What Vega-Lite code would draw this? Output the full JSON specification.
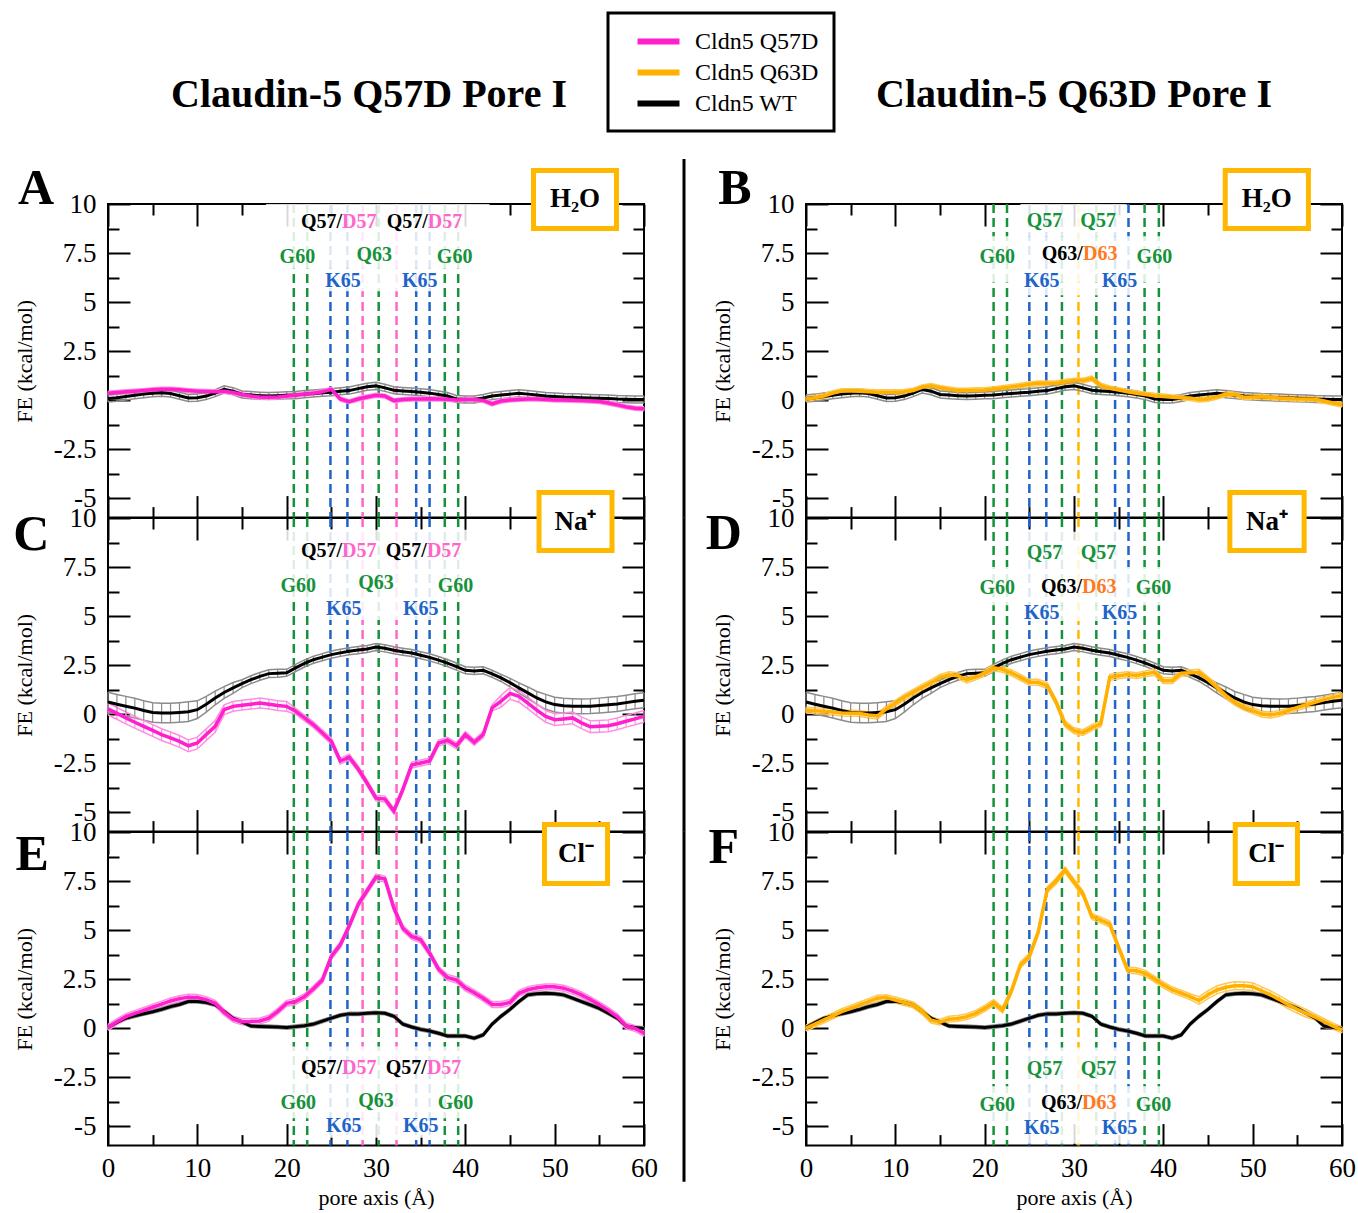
{
"$schema":"https://vega.github.io/schema/vega-lite/v6.json",
"background":"white",
"padding":{"left":12,"top":11,"right":0,"bottom":0},
"config":{"font":"Liberation Serif","view":{"stroke":"black","strokeWidth":2},
"axis":{"domain":false,"grid":false,"tickColor":"black","tickWidth":2,"labelFont":"Liberation Serif","labelFontSize":27,"labelColor":"black","titleFont":"Liberation Serif","titleFontWeight":"normal","titleFontSize":22,"titleColor":"black","labelFlush":false,"labelOverlap":false},
"legend":{"labelFont":"Liberation Serif","labelFontSize":24,"labelColor":"black","strokeColor":"black","strokeWidth":3,"fillColor":"white","padding":15,"symbolStrokeWidth":6,"rowPadding":5}},
"datasets":{
"rl":[{"d":"L","x":20.8,"r":"G60"},{"d":"L","x":22.3,"r":"G60"},{"d":"L","x":24.9,"r":"K65"},{"d":"L","x":26.8,"r":"K65"},{"d":"L","x":28.5,"r":"D57"},{"d":"L","x":30.3,"r":"Q63"},{"d":"L","x":32.3,"r":"D57"},{"d":"L","x":34.5,"r":"K65"},{"d":"L","x":36.0,"r":"K65"},{"d":"L","x":37.7,"r":"G60"},{"d":"L","x":39.2,"r":"G60"},
{"d":"R","x":21.0,"r":"G60"},{"d":"R","x":22.5,"r":"G60"},{"d":"R","x":25.0,"r":"K65"},{"d":"R","x":26.9,"r":"K65"},{"d":"R","x":28.65,"r":"Q57"},{"d":"R","x":30.5,"r":"D63"},{"d":"R","x":32.5,"r":"Q57"},{"d":"R","x":34.6,"r":"K65"},{"d":"R","x":36.1,"r":"K65"},{"d":"R","x":37.9,"r":"G60"},{"d":"R","x":39.5,"r":"G60"}],
"wb":[{"i":"H","d":"L","x1":17.7,"x2":42.7,"y1":10,"y2":6.7},{"i":"H","d":"L","x1":24.2,"x2":36.8,"y1":6.7,"y2":5.55},
{"i":"N","d":"L","x1":17.7,"x2":42.7,"y1":9.4,"y2":5.95},{"i":"N","d":"L","x1":24.2,"x2":36.8,"y1":5.95,"y2":4.8},
{"i":"C","d":"L","x1":17.7,"x2":42.7,"y1":-0.95,"y2":-4.6},{"i":"C","d":"L","x1":24.2,"x2":36.8,"y1":-4.6,"y2":-5.6},
{"i":"H","d":"R","x1":24,"x2":35.9,"y1":10,"y2":8.35},{"i":"H","d":"R","x1":17.5,"x2":43,"y1":8.35,"y2":6.0},{"i":"H","d":"R","x1":24.5,"x2":36.5,"y1":6.0,"y2":5.35},
{"i":"N","d":"R","x1":24,"x2":35.9,"y1":9.3,"y2":7.5},{"i":"N","d":"R","x1":17.5,"x2":43,"y1":7.5,"y2":5.55},{"i":"N","d":"R","x1":24.5,"x2":36.5,"y1":5.55,"y2":4.75},
{"i":"C","d":"R","x1":24,"x2":35.9,"y1":-1.0,"y2":-2.97},{"i":"C","d":"R","x1":17.5,"x2":43,"y1":-2.97,"y2":-4.85},{"i":"C","d":"R","x1":24.5,"x2":36.5,"y1":-4.85,"y2":-5.9}],
"ib":[{"i":"H","d":"L","x1":47.63,"x2":56.92,"y1":11.71,"y2":8.75,"cx":52.28,"cy":10.23,"t":"H₂O","L":"A","lx":-8.06,"ly":10.77},
{"i":"N","d":"L","x1":48.25,"x2":56.42,"y1":11.3,"y2":8.34,"cx":52.33,"cy":9.82,"t":"Na⁺","L":"C","lx":-8.6,"ly":9.13},
{"i":"C","d":"L","x1":48.86,"x2":55.92,"y1":10.38,"y2":7.37,"cx":52.39,"cy":8.88,"t":"Cl⁻","L":"E","lx":-8.5,"ly":8.83},
{"i":"H","d":"R","x1":46.93,"x2":56.24,"y1":11.71,"y2":8.75,"cx":51.58,"cy":10.23,"t":"H₂O","L":"B","lx":-7.96,"ly":10.77},
{"i":"N","d":"R","x1":47.45,"x2":55.76,"y1":11.3,"y2":8.34,"cx":51.6,"cy":9.82,"t":"Na⁺","L":"D","lx":-9.2,"ly":9.18},
{"i":"C","d":"R","x1":48.05,"x2":55.01,"y1":10.38,"y2":7.37,"cx":51.53,"cy":8.88,"t":"Cl⁻","L":"F","lx":-9.2,"ly":9.2}],
"sep":[{"k":"A","t":1.1435,"b":0},{"k":"C","t":1.002,"b":0},{"k":"E","t":1.002,"b":-0.115}],
"lab":[
{"i":"H","d":"L","p":"r","x":26.2,"y":9.1,"t":"Q57/","r":"wt"},{"i":"H","d":"L","p":"l","x":26.2,"y":9.1,"t":"D57","r":"D57"},{"i":"H","d":"L","p":"r","x":35.8,"y":9.1,"t":"Q57/","r":"wt"},{"i":"H","d":"L","p":"l","x":35.8,"y":9.1,"t":"D57","r":"D57"},
{"i":"H","d":"L","p":"c","x":21.2,"y":7.3,"t":"G60","r":"G60"},{"i":"H","d":"L","p":"c","x":29.8,"y":7.4,"t":"Q63","r":"Q63"},{"i":"H","d":"L","p":"c","x":38.8,"y":7.3,"t":"G60","r":"G60"},{"i":"H","d":"L","p":"c","x":26.3,"y":6.05,"t":"K65","r":"K65"},{"i":"H","d":"L","p":"c","x":34.9,"y":6.05,"t":"K65","r":"K65"},
{"i":"N","d":"L","p":"r","x":26.2,"y":8.33,"t":"Q57/","r":"wt"},{"i":"N","d":"L","p":"l","x":26.2,"y":8.33,"t":"D57","r":"D57"},{"i":"N","d":"L","p":"r","x":35.7,"y":8.33,"t":"Q57/","r":"wt"},{"i":"N","d":"L","p":"l","x":35.7,"y":8.33,"t":"D57","r":"D57"},
{"i":"N","d":"L","p":"c","x":21.3,"y":6.53,"t":"G60","r":"G60"},{"i":"N","d":"L","p":"c","x":30.0,"y":6.67,"t":"Q63","r":"Q63"},{"i":"N","d":"L","p":"c","x":38.9,"y":6.53,"t":"G60","r":"G60"},{"i":"N","d":"L","p":"c","x":26.4,"y":5.34,"t":"K65","r":"K65"},{"i":"N","d":"L","p":"c","x":35.0,"y":5.34,"t":"K65","r":"K65"},
{"i":"C","d":"L","p":"r","x":26.2,"y":-2.06,"t":"Q57/","r":"wt"},{"i":"C","d":"L","p":"l","x":26.2,"y":-2.06,"t":"D57","r":"D57"},{"i":"C","d":"L","p":"r","x":35.7,"y":-2.06,"t":"Q57/","r":"wt"},{"i":"C","d":"L","p":"l","x":35.7,"y":-2.06,"t":"D57","r":"D57"},
{"i":"C","d":"L","p":"c","x":21.3,"y":-3.84,"t":"G60","r":"G60"},{"i":"C","d":"L","p":"c","x":30.0,"y":-3.71,"t":"Q63","r":"Q63"},{"i":"C","d":"L","p":"c","x":38.9,"y":-3.84,"t":"G60","r":"G60"},{"i":"C","d":"L","p":"c","x":26.4,"y":-5.0,"t":"K65","r":"K65"},{"i":"C","d":"L","p":"c","x":35.0,"y":-5.0,"t":"K65","r":"K65"},
{"i":"H","d":"R","p":"c","x":26.7,"y":9.15,"t":"Q57","r":"Q57"},{"i":"H","d":"R","p":"c","x":32.7,"y":9.15,"t":"Q57","r":"Q57"},{"i":"H","d":"R","p":"r","x":31.0,"y":7.45,"t":"Q63/","r":"wt"},{"i":"H","d":"R","p":"l","x":31.0,"y":7.45,"t":"D63","r":"D63t"},
{"i":"H","d":"R","p":"c","x":21.4,"y":7.3,"t":"G60","r":"G60"},{"i":"H","d":"R","p":"c","x":39.0,"y":7.3,"t":"G60","r":"G60"},{"i":"H","d":"R","p":"c","x":26.4,"y":6.09,"t":"K65","r":"K65"},{"i":"H","d":"R","p":"c","x":35.1,"y":6.09,"t":"K65","r":"K65"},
{"i":"N","d":"R","p":"c","x":26.7,"y":8.23,"t":"Q57","r":"Q57"},{"i":"N","d":"R","p":"c","x":32.75,"y":8.23,"t":"Q57","r":"Q57"},{"i":"N","d":"R","p":"r","x":30.9,"y":6.46,"t":"Q63/","r":"wt"},{"i":"N","d":"R","p":"l","x":30.9,"y":6.46,"t":"D63","r":"D63t"},
{"i":"N","d":"R","p":"c","x":21.4,"y":6.41,"t":"G60","r":"G60"},{"i":"N","d":"R","p":"c","x":38.9,"y":6.41,"t":"G60","r":"G60"},{"i":"N","d":"R","p":"c","x":26.4,"y":5.14,"t":"K65","r":"K65"},{"i":"N","d":"R","p":"c","x":35.1,"y":5.14,"t":"K65","r":"K65"},
{"i":"C","d":"R","p":"c","x":26.7,"y":-2.11,"t":"Q57","r":"Q57"},{"i":"C","d":"R","p":"c","x":32.75,"y":-2.11,"t":"Q57","r":"Q57"},{"i":"C","d":"R","p":"r","x":30.9,"y":-3.84,"t":"Q63/","r":"wt"},{"i":"C","d":"R","p":"l","x":30.9,"y":-3.84,"t":"D63","r":"D63t"},
{"i":"C","d":"R","p":"c","x":21.4,"y":-3.93,"t":"G60","r":"G60"},{"i":"C","d":"R","p":"c","x":38.9,"y":-3.93,"t":"G60","r":"G60"},{"i":"C","d":"R","p":"c","x":26.4,"y":-5.12,"t":"K65","r":"K65"},{"i":"C","d":"R","p":"c","x":35.1,"y":-5.12,"t":"K65","r":"K65"}],
"fe":[
{"i":"H","s":"W","x":0,"y":0.08,"e":0.18},{"i":"H","s":"W","x":1,"y":0.12,"e":0.18},{"i":"H","s":"W","x":2,"y":0.18,"e":0.18},{"i":"H","s":"W","x":3,"y":0.24,"e":0.18},{"i":"H","s":"W","x":4,"y":0.3,"e":0.18},{"i":"H","s":"W","x":5,"y":0.34,"e":0.18},{"i":"H","s":"W","x":6,"y":0.37,"e":0.18},{"i":"H","s":"W","x":7,"y":0.33,"e":0.18},{"i":"H","s":"W","x":8,"y":0.22,"e":0.18},{"i":"H","s":"W","x":9,"y":0.1,"e":0.18},
{"i":"H","s":"W","x":10,"y":0.12,"e":0.18},{"i":"H","s":"W","x":11,"y":0.2,"e":0.18},{"i":"H","s":"W","x":12,"y":0.35,"e":0.18},{"i":"H","s":"W","x":13,"y":0.54,"e":0.18},{"i":"H","s":"W","x":14,"y":0.45,"e":0.18},{"i":"H","s":"W","x":15,"y":0.28,"e":0.18},{"i":"H","s":"W","x":16,"y":0.25,"e":0.18},{"i":"H","s":"W","x":17,"y":0.22,"e":0.18},{"i":"H","s":"W","x":18,"y":0.2,"e":0.18},{"i":"H","s":"W","x":19,"y":0.22,"e":0.18},
{"i":"H","s":"W","x":20,"y":0.24,"e":0.18},{"i":"H","s":"W","x":21,"y":0.25,"e":0.18},{"i":"H","s":"W","x":22,"y":0.3,"e":0.18},{"i":"H","s":"W","x":23,"y":0.33,"e":0.18},{"i":"H","s":"W","x":24,"y":0.37,"e":0.18},{"i":"H","s":"W","x":25,"y":0.4,"e":0.18},{"i":"H","s":"W","x":26,"y":0.45,"e":0.18},{"i":"H","s":"W","x":27,"y":0.48,"e":0.18},{"i":"H","s":"W","x":28,"y":0.58,"e":0.18},{"i":"H","s":"W","x":29,"y":0.68,"e":0.18},
{"i":"H","s":"W","x":30,"y":0.72,"e":0.18},{"i":"H","s":"W","x":31,"y":0.62,"e":0.18},{"i":"H","s":"W","x":32,"y":0.5,"e":0.18},{"i":"H","s":"W","x":33,"y":0.46,"e":0.18},{"i":"H","s":"W","x":34,"y":0.43,"e":0.18},{"i":"H","s":"W","x":35,"y":0.4,"e":0.18},{"i":"H","s":"W","x":36,"y":0.35,"e":0.18},{"i":"H","s":"W","x":37,"y":0.28,"e":0.18},{"i":"H","s":"W","x":38,"y":0.2,"e":0.18},{"i":"H","s":"W","x":39,"y":0.05,"e":0.18},
{"i":"H","s":"W","x":40,"y":0.03,"e":0.18},{"i":"H","s":"W","x":41,"y":0.03,"e":0.18},{"i":"H","s":"W","x":42,"y":0.1,"e":0.18},{"i":"H","s":"W","x":43,"y":0.2,"e":0.18},{"i":"H","s":"W","x":44,"y":0.25,"e":0.18},{"i":"H","s":"W","x":45,"y":0.3,"e":0.18},{"i":"H","s":"W","x":46,"y":0.34,"e":0.18},{"i":"H","s":"W","x":47,"y":0.3,"e":0.18},{"i":"H","s":"W","x":48,"y":0.25,"e":0.18},{"i":"H","s":"W","x":49,"y":0.2,"e":0.18},
{"i":"H","s":"W","x":50,"y":0.18,"e":0.18},{"i":"H","s":"W","x":51,"y":0.15,"e":0.18},{"i":"H","s":"W","x":52,"y":0.14,"e":0.18},{"i":"H","s":"W","x":53,"y":0.12,"e":0.18},{"i":"H","s":"W","x":54,"y":0.1,"e":0.18},{"i":"H","s":"W","x":55,"y":0.09,"e":0.18},{"i":"H","s":"W","x":56,"y":0.08,"e":0.18},{"i":"H","s":"W","x":57,"y":0.05,"e":0.18},{"i":"H","s":"W","x":58,"y":0.04,"e":0.18},{"i":"H","s":"W","x":59,"y":0.03,"e":0.18},{"i":"H","s":"W","x":60,"y":0.03,"e":0.18},
{"i":"H","s":"P","x":0,"y":0.35,"e":0.1},{"i":"H","s":"P","x":1,"y":0.38,"e":0.1},{"i":"H","s":"P","x":2,"y":0.42,"e":0.1},{"i":"H","s":"P","x":3,"y":0.45,"e":0.1},{"i":"H","s":"P","x":4,"y":0.48,"e":0.1},{"i":"H","s":"P","x":5,"y":0.52,"e":0.1},{"i":"H","s":"P","x":6,"y":0.55,"e":0.1},{"i":"H","s":"P","x":7,"y":0.55,"e":0.1},{"i":"H","s":"P","x":8,"y":0.52,"e":0.1},{"i":"H","s":"P","x":9,"y":0.48,"e":0.1},
{"i":"H","s":"P","x":10,"y":0.45,"e":0.1},{"i":"H","s":"P","x":11,"y":0.43,"e":0.1},{"i":"H","s":"P","x":12,"y":0.42,"e":0.1},{"i":"H","s":"P","x":13,"y":0.45,"e":0.1},{"i":"H","s":"P","x":14,"y":0.38,"e":0.1},{"i":"H","s":"P","x":15,"y":0.28,"e":0.1},{"i":"H","s":"P","x":16,"y":0.2,"e":0.1},{"i":"H","s":"P","x":17,"y":0.15,"e":0.1},{"i":"H","s":"P","x":18,"y":0.14,"e":0.1},{"i":"H","s":"P","x":19,"y":0.15,"e":0.1},
{"i":"H","s":"P","x":20,"y":0.2,"e":0.1},{"i":"H","s":"P","x":21,"y":0.25,"e":0.1},{"i":"H","s":"P","x":22,"y":0.3,"e":0.1},{"i":"H","s":"P","x":23,"y":0.35,"e":0.1},{"i":"H","s":"P","x":24,"y":0.42,"e":0.1},{"i":"H","s":"P","x":25,"y":0.54,"e":0.1},{"i":"H","s":"P","x":26,"y":0.05,"e":0.1},{"i":"H","s":"P","x":27,"y":-0.08,"e":0.1},{"i":"H","s":"P","x":28,"y":0.05,"e":0.1},{"i":"H","s":"P","x":29,"y":0.15,"e":0.1},
{"i":"H","s":"P","x":30,"y":0.24,"e":0.1},{"i":"H","s":"P","x":31,"y":0.2,"e":0.1},{"i":"H","s":"P","x":32,"y":-0.03,"e":0.1},{"i":"H","s":"P","x":33,"y":0.02,"e":0.1},{"i":"H","s":"P","x":34,"y":0.05,"e":0.1},{"i":"H","s":"P","x":35,"y":0.05,"e":0.1},{"i":"H","s":"P","x":36,"y":0.06,"e":0.1},{"i":"H","s":"P","x":37,"y":0.05,"e":0.1},{"i":"H","s":"P","x":38,"y":0.04,"e":0.1},{"i":"H","s":"P","x":39,"y":0.0,"e":0.1},
{"i":"H","s":"P","x":40,"y":0.02,"e":0.1},{"i":"H","s":"P","x":41,"y":0.02,"e":0.1},{"i":"H","s":"P","x":42,"y":-0.02,"e":0.1},{"i":"H","s":"P","x":43,"y":-0.2,"e":0.1},{"i":"H","s":"P","x":44,"y":-0.05,"e":0.1},{"i":"H","s":"P","x":45,"y":0.0,"e":0.1},{"i":"H","s":"P","x":46,"y":0.03,"e":0.1},{"i":"H","s":"P","x":47,"y":0.05,"e":0.1},{"i":"H","s":"P","x":48,"y":0.05,"e":0.1},{"i":"H","s":"P","x":49,"y":0.03,"e":0.1},
{"i":"H","s":"P","x":50,"y":0.0,"e":0.1},{"i":"H","s":"P","x":51,"y":0.0,"e":0.1},{"i":"H","s":"P","x":52,"y":-0.01,"e":0.1},{"i":"H","s":"P","x":53,"y":-0.03,"e":0.1},{"i":"H","s":"P","x":54,"y":-0.05,"e":0.1},{"i":"H","s":"P","x":55,"y":-0.08,"e":0.1},{"i":"H","s":"P","x":56,"y":-0.15,"e":0.1},{"i":"H","s":"P","x":57,"y":-0.25,"e":0.1},{"i":"H","s":"P","x":58,"y":-0.35,"e":0.1},{"i":"H","s":"P","x":59,"y":-0.42,"e":0.1},{"i":"H","s":"P","x":60,"y":-0.45,"e":0.1},
{"i":"H","s":"O","x":0,"y":0.05,"e":0.12},{"i":"H","s":"O","x":1,"y":0.12,"e":0.12},{"i":"H","s":"O","x":2,"y":0.2,"e":0.12},{"i":"H","s":"O","x":3,"y":0.35,"e":0.12},{"i":"H","s":"O","x":4,"y":0.46,"e":0.12},{"i":"H","s":"O","x":5,"y":0.46,"e":0.12},{"i":"H","s":"O","x":6,"y":0.45,"e":0.12},{"i":"H","s":"O","x":7,"y":0.42,"e":0.12},{"i":"H","s":"O","x":8,"y":0.4,"e":0.12},{"i":"H","s":"O","x":9,"y":0.4,"e":0.12},
{"i":"H","s":"O","x":10,"y":0.4,"e":0.12},{"i":"H","s":"O","x":11,"y":0.42,"e":0.12},{"i":"H","s":"O","x":12,"y":0.48,"e":0.12},{"i":"H","s":"O","x":13,"y":0.65,"e":0.12},{"i":"H","s":"O","x":14,"y":0.72,"e":0.12},{"i":"H","s":"O","x":15,"y":0.62,"e":0.12},{"i":"H","s":"O","x":16,"y":0.55,"e":0.12},{"i":"H","s":"O","x":17,"y":0.48,"e":0.12},{"i":"H","s":"O","x":18,"y":0.48,"e":0.12},{"i":"H","s":"O","x":19,"y":0.5,"e":0.12},
{"i":"H","s":"O","x":20,"y":0.51,"e":0.12},{"i":"H","s":"O","x":21,"y":0.55,"e":0.12},{"i":"H","s":"O","x":22,"y":0.61,"e":0.12},{"i":"H","s":"O","x":23,"y":0.67,"e":0.12},{"i":"H","s":"O","x":24,"y":0.73,"e":0.12},{"i":"H","s":"O","x":25,"y":0.8,"e":0.12},{"i":"H","s":"O","x":26,"y":0.85,"e":0.12},{"i":"H","s":"O","x":27,"y":0.85,"e":0.12},{"i":"H","s":"O","x":28,"y":0.86,"e":0.12},{"i":"H","s":"O","x":29,"y":0.92,"e":0.12},
{"i":"H","s":"O","x":30,"y":0.99,"e":0.12},{"i":"H","s":"O","x":31,"y":0.99,"e":0.12},{"i":"H","s":"O","x":32,"y":1.1,"e":0.12},{"i":"H","s":"O","x":33,"y":0.73,"e":0.12},{"i":"H","s":"O","x":34,"y":0.6,"e":0.12},{"i":"H","s":"O","x":35,"y":0.51,"e":0.12},{"i":"H","s":"O","x":36,"y":0.42,"e":0.12},{"i":"H","s":"O","x":37,"y":0.34,"e":0.12},{"i":"H","s":"O","x":38,"y":0.28,"e":0.12},{"i":"H","s":"O","x":39,"y":0.22,"e":0.12},
{"i":"H","s":"O","x":40,"y":0.18,"e":0.12},{"i":"H","s":"O","x":41,"y":0.14,"e":0.12},{"i":"H","s":"O","x":42,"y":0.12,"e":0.12},{"i":"H","s":"O","x":43,"y":0.1,"e":0.12},{"i":"H","s":"O","x":44,"y":0.02,"e":0.12},{"i":"H","s":"O","x":45,"y":0.05,"e":0.12},{"i":"H","s":"O","x":46,"y":0.17,"e":0.12},{"i":"H","s":"O","x":47,"y":0.3,"e":0.12},{"i":"H","s":"O","x":48,"y":0.28,"e":0.12},{"i":"H","s":"O","x":49,"y":0.14,"e":0.12},
{"i":"H","s":"O","x":50,"y":0.15,"e":0.12},{"i":"H","s":"O","x":51,"y":0.17,"e":0.12},{"i":"H","s":"O","x":52,"y":0.13,"e":0.12},{"i":"H","s":"O","x":53,"y":0.1,"e":0.12},{"i":"H","s":"O","x":54,"y":0.08,"e":0.12},{"i":"H","s":"O","x":55,"y":0.05,"e":0.12},{"i":"H","s":"O","x":56,"y":0.05,"e":0.12},{"i":"H","s":"O","x":57,"y":0.04,"e":0.12},{"i":"H","s":"O","x":58,"y":-0.05,"e":0.12},{"i":"H","s":"O","x":59,"y":-0.15,"e":0.12},{"i":"H","s":"O","x":60,"y":-0.24,"e":0.12},
{"i":"N","s":"W","x":0,"y":0.61,"e":0.5},{"i":"N","s":"W","x":1,"y":0.5,"e":0.5},{"i":"N","s":"W","x":2,"y":0.4,"e":0.5},{"i":"N","s":"W","x":3,"y":0.3,"e":0.5},{"i":"N","s":"W","x":4,"y":0.18,"e":0.5},{"i":"N","s":"W","x":5,"y":0.08,"e":0.5},{"i":"N","s":"W","x":6,"y":0.05,"e":0.5},{"i":"N","s":"W","x":7,"y":0.05,"e":0.5},{"i":"N","s":"W","x":8,"y":0.08,"e":0.5},{"i":"N","s":"W","x":9,"y":0.12,"e":0.5},
{"i":"N","s":"W","x":10,"y":0.22,"e":0.45},{"i":"N","s":"W","x":11,"y":0.5,"e":0.4},{"i":"N","s":"W","x":12,"y":0.82,"e":0.35},{"i":"N","s":"W","x":13,"y":1.1,"e":0.3},{"i":"N","s":"W","x":14,"y":1.33,"e":0.28},{"i":"N","s":"W","x":15,"y":1.55,"e":0.2},{"i":"N","s":"W","x":16,"y":1.75,"e":0.2},{"i":"N","s":"W","x":17,"y":1.92,"e":0.2},{"i":"N","s":"W","x":18,"y":2.06,"e":0.2},{"i":"N","s":"W","x":19,"y":2.08,"e":0.2},
{"i":"N","s":"W","x":20,"y":2.1,"e":0.18},{"i":"N","s":"W","x":21,"y":2.35,"e":0.18},{"i":"N","s":"W","x":22,"y":2.58,"e":0.18},{"i":"N","s":"W","x":23,"y":2.77,"e":0.18},{"i":"N","s":"W","x":24,"y":2.9,"e":0.18},{"i":"N","s":"W","x":25,"y":3.03,"e":0.18},{"i":"N","s":"W","x":26,"y":3.12,"e":0.18},{"i":"N","s":"W","x":27,"y":3.2,"e":0.18},{"i":"N","s":"W","x":28,"y":3.26,"e":0.18},{"i":"N","s":"W","x":29,"y":3.32,"e":0.18},
{"i":"N","s":"W","x":30,"y":3.42,"e":0.18},{"i":"N","s":"W","x":31,"y":3.35,"e":0.18},{"i":"N","s":"W","x":32,"y":3.25,"e":0.18},{"i":"N","s":"W","x":33,"y":3.18,"e":0.18},{"i":"N","s":"W","x":34,"y":3.11,"e":0.18},{"i":"N","s":"W","x":35,"y":3.0,"e":0.18},{"i":"N","s":"W","x":36,"y":2.89,"e":0.18},{"i":"N","s":"W","x":37,"y":2.75,"e":0.18},{"i":"N","s":"W","x":38,"y":2.6,"e":0.18},{"i":"N","s":"W","x":39,"y":2.42,"e":0.18},
{"i":"N","s":"W","x":40,"y":2.23,"e":0.18},{"i":"N","s":"W","x":41,"y":2.2,"e":0.18},{"i":"N","s":"W","x":42,"y":2.23,"e":0.18},{"i":"N","s":"W","x":43,"y":2.05,"e":0.18},{"i":"N","s":"W","x":44,"y":1.84,"e":0.18},{"i":"N","s":"W","x":45,"y":1.6,"e":0.22},{"i":"N","s":"W","x":46,"y":1.33,"e":0.26},{"i":"N","s":"W","x":47,"y":1.08,"e":0.3},{"i":"N","s":"W","x":48,"y":0.82,"e":0.33},{"i":"N","s":"W","x":49,"y":0.62,"e":0.38},
{"i":"N","s":"W","x":50,"y":0.48,"e":0.38},{"i":"N","s":"W","x":51,"y":0.42,"e":0.38},{"i":"N","s":"W","x":52,"y":0.4,"e":0.38},{"i":"N","s":"W","x":53,"y":0.39,"e":0.38},{"i":"N","s":"W","x":54,"y":0.4,"e":0.38},{"i":"N","s":"W","x":55,"y":0.43,"e":0.38},{"i":"N","s":"W","x":56,"y":0.47,"e":0.38},{"i":"N","s":"W","x":57,"y":0.51,"e":0.38},{"i":"N","s":"W","x":58,"y":0.58,"e":0.38},{"i":"N","s":"W","x":59,"y":0.65,"e":0.38},{"i":"N","s":"W","x":60,"y":0.7,"e":0.38},
{"i":"N","s":"P","x":0,"y":0.26,"e":0.3},{"i":"N","s":"P","x":1,"y":0.03,"e":0.3},{"i":"N","s":"P","x":2,"y":-0.2,"e":0.3},{"i":"N","s":"P","x":3,"y":-0.42,"e":0.3},{"i":"N","s":"P","x":4,"y":-0.63,"e":0.3},{"i":"N","s":"P","x":5,"y":-0.84,"e":0.3},{"i":"N","s":"P","x":6,"y":-1.05,"e":0.3},{"i":"N","s":"P","x":7,"y":-1.22,"e":0.3},{"i":"N","s":"P","x":8,"y":-1.4,"e":0.3},{"i":"N","s":"P","x":9,"y":-1.62,"e":0.3},
{"i":"N","s":"P","x":10,"y":-1.48,"e":0.3},{"i":"N","s":"P","x":11,"y":-1.05,"e":0.3},{"i":"N","s":"P","x":12,"y":-0.63,"e":0.3},{"i":"N","s":"P","x":13,"y":0.22,"e":0.25},{"i":"N","s":"P","x":14,"y":0.39,"e":0.25},{"i":"N","s":"P","x":15,"y":0.45,"e":0.25},{"i":"N","s":"P","x":16,"y":0.5,"e":0.25},{"i":"N","s":"P","x":17,"y":0.56,"e":0.25},{"i":"N","s":"P","x":18,"y":0.5,"e":0.25},{"i":"N","s":"P","x":19,"y":0.43,"e":0.25},
{"i":"N","s":"P","x":20,"y":0.39,"e":0.25},{"i":"N","s":"P","x":21,"y":0.14,"e":0.15},{"i":"N","s":"P","x":22,"y":-0.2,"e":0.15},{"i":"N","s":"P","x":23,"y":-0.55,"e":0.15},{"i":"N","s":"P","x":24,"y":-0.97,"e":0.15},{"i":"N","s":"P","x":25,"y":-1.39,"e":0.15},{"i":"N","s":"P","x":26,"y":-2.4,"e":0.15},{"i":"N","s":"P","x":27,"y":-2.2,"e":0.15},{"i":"N","s":"P","x":28,"y":-2.8,"e":0.15},{"i":"N","s":"P","x":29,"y":-3.52,"e":0.15},
{"i":"N","s":"P","x":30,"y":-4.29,"e":0.15},{"i":"N","s":"P","x":31,"y":-4.34,"e":0.15},{"i":"N","s":"P","x":32,"y":-4.95,"e":0.15},{"i":"N","s":"P","x":33,"y":-3.86,"e":0.15},{"i":"N","s":"P","x":34,"y":-2.6,"e":0.15},{"i":"N","s":"P","x":35,"y":-2.5,"e":0.15},{"i":"N","s":"P","x":36,"y":-2.4,"e":0.15},{"i":"N","s":"P","x":37,"y":-1.48,"e":0.15},{"i":"N","s":"P","x":38,"y":-1.34,"e":0.15},{"i":"N","s":"P","x":39,"y":-1.62,"e":0.15},
{"i":"N","s":"P","x":40,"y":-1.05,"e":0.15},{"i":"N","s":"P","x":41,"y":-1.45,"e":0.15},{"i":"N","s":"P","x":42,"y":-1.05,"e":0.15},{"i":"N","s":"P","x":43,"y":0.31,"e":0.15},{"i":"N","s":"P","x":44,"y":0.65,"e":0.3},{"i":"N","s":"P","x":45,"y":1.05,"e":0.3},{"i":"N","s":"P","x":46,"y":0.9,"e":0.3},{"i":"N","s":"P","x":47,"y":0.56,"e":0.3},{"i":"N","s":"P","x":48,"y":0.2,"e":0.3},{"i":"N","s":"P","x":49,"y":-0.12,"e":0.3},
{"i":"N","s":"P","x":50,"y":-0.29,"e":0.3},{"i":"N","s":"P","x":51,"y":-0.25,"e":0.3},{"i":"N","s":"P","x":52,"y":-0.2,"e":0.3},{"i":"N","s":"P","x":53,"y":-0.45,"e":0.3},{"i":"N","s":"P","x":54,"y":-0.65,"e":0.3},{"i":"N","s":"P","x":55,"y":-0.63,"e":0.3},{"i":"N","s":"P","x":56,"y":-0.6,"e":0.3},{"i":"N","s":"P","x":57,"y":-0.5,"e":0.3},{"i":"N","s":"P","x":58,"y":-0.37,"e":0.3},{"i":"N","s":"P","x":59,"y":-0.25,"e":0.3},{"i":"N","s":"P","x":60,"y":-0.12,"e":0.3},
{"i":"N","s":"O","x":0,"y":0.2,"e":0.15},{"i":"N","s":"O","x":1,"y":0.17,"e":0.15},{"i":"N","s":"O","x":2,"y":0.14,"e":0.15},{"i":"N","s":"O","x":3,"y":0.1,"e":0.15},{"i":"N","s":"O","x":4,"y":0.05,"e":0.15},{"i":"N","s":"O","x":5,"y":0.04,"e":0.15},{"i":"N","s":"O","x":6,"y":0.03,"e":0.15},{"i":"N","s":"O","x":7,"y":-0.05,"e":0.15},{"i":"N","s":"O","x":8,"y":-0.1,"e":0.15},{"i":"N","s":"O","x":9,"y":0.26,"e":0.15},
{"i":"N","s":"O","x":10,"y":0.55,"e":0.15},{"i":"N","s":"O","x":11,"y":0.85,"e":0.15},{"i":"N","s":"O","x":12,"y":1.1,"e":0.15},{"i":"N","s":"O","x":13,"y":1.36,"e":0.15},{"i":"N","s":"O","x":14,"y":1.6,"e":0.15},{"i":"N","s":"O","x":15,"y":1.87,"e":0.15},{"i":"N","s":"O","x":16,"y":2.0,"e":0.15},{"i":"N","s":"O","x":17,"y":1.95,"e":0.15},{"i":"N","s":"O","x":18,"y":1.74,"e":0.15},{"i":"N","s":"O","x":19,"y":1.9,"e":0.15},
{"i":"N","s":"O","x":20,"y":2.1,"e":0.15},{"i":"N","s":"O","x":21,"y":2.35,"e":0.15},{"i":"N","s":"O","x":22,"y":2.28,"e":0.15},{"i":"N","s":"O","x":23,"y":2.1,"e":0.15},{"i":"N","s":"O","x":24,"y":1.87,"e":0.15},{"i":"N","s":"O","x":25,"y":1.62,"e":0.15},{"i":"N","s":"O","x":26,"y":1.62,"e":0.15},{"i":"N","s":"O","x":27,"y":1.45,"e":0.15},{"i":"N","s":"O","x":28,"y":0.6,"e":0.15},{"i":"N","s":"O","x":29,"y":-0.5,"e":0.15},
{"i":"N","s":"O","x":30,"y":-0.85,"e":0.15},{"i":"N","s":"O","x":31,"y":-0.95,"e":0.15},{"i":"N","s":"O","x":32,"y":-0.7,"e":0.15},{"i":"N","s":"O","x":33,"y":-0.5,"e":0.15},{"i":"N","s":"O","x":34,"y":1.87,"e":0.15},{"i":"N","s":"O","x":35,"y":1.95,"e":0.15},{"i":"N","s":"O","x":36,"y":2.01,"e":0.15},{"i":"N","s":"O","x":37,"y":1.96,"e":0.15},{"i":"N","s":"O","x":38,"y":2.05,"e":0.15},{"i":"N","s":"O","x":39,"y":2.13,"e":0.15},
{"i":"N","s":"O","x":40,"y":1.7,"e":0.15},{"i":"N","s":"O","x":41,"y":1.7,"e":0.15},{"i":"N","s":"O","x":42,"y":2.08,"e":0.15},{"i":"N","s":"O","x":43,"y":2.1,"e":0.15},{"i":"N","s":"O","x":44,"y":2.13,"e":0.15},{"i":"N","s":"O","x":45,"y":1.75,"e":0.15},{"i":"N","s":"O","x":46,"y":1.36,"e":0.15},{"i":"N","s":"O","x":47,"y":0.95,"e":0.15},{"i":"N","s":"O","x":48,"y":0.6,"e":0.15},{"i":"N","s":"O","x":49,"y":0.35,"e":0.15},
{"i":"N","s":"O","x":50,"y":0.17,"e":0.15},{"i":"N","s":"O","x":51,"y":0.0,"e":0.15},{"i":"N","s":"O","x":52,"y":-0.05,"e":0.15},{"i":"N","s":"O","x":53,"y":0.03,"e":0.15},{"i":"N","s":"O","x":54,"y":0.18,"e":0.15},{"i":"N","s":"O","x":55,"y":0.34,"e":0.15},{"i":"N","s":"O","x":56,"y":0.47,"e":0.15},{"i":"N","s":"O","x":57,"y":0.6,"e":0.15},{"i":"N","s":"O","x":58,"y":0.73,"e":0.15},{"i":"N","s":"O","x":59,"y":0.85,"e":0.15},{"i":"N","s":"O","x":60,"y":0.94,"e":0.15},
{"i":"C","s":"W","x":0,"y":0.03,"e":0.08},{"i":"C","s":"W","x":1,"y":0.28,"e":0.08},{"i":"C","s":"W","x":2,"y":0.5,"e":0.08},{"i":"C","s":"W","x":3,"y":0.62,"e":0.08},{"i":"C","s":"W","x":4,"y":0.73,"e":0.08},{"i":"C","s":"W","x":5,"y":0.83,"e":0.08},{"i":"C","s":"W","x":6,"y":0.95,"e":0.08},{"i":"C","s":"W","x":7,"y":1.09,"e":0.08},{"i":"C","s":"W","x":8,"y":1.2,"e":0.08},{"i":"C","s":"W","x":9,"y":1.35,"e":0.08},
{"i":"C","s":"W","x":10,"y":1.35,"e":0.08},{"i":"C","s":"W","x":11,"y":1.3,"e":0.08},{"i":"C","s":"W","x":12,"y":1.18,"e":0.08},{"i":"C","s":"W","x":13,"y":0.85,"e":0.08},{"i":"C","s":"W","x":14,"y":0.5,"e":0.08},{"i":"C","s":"W","x":15,"y":0.3,"e":0.08},{"i":"C","s":"W","x":16,"y":0.1,"e":0.08},{"i":"C","s":"W","x":17,"y":0.08,"e":0.08},{"i":"C","s":"W","x":18,"y":0.07,"e":0.08},{"i":"C","s":"W","x":19,"y":0.05,"e":0.08},
{"i":"C","s":"W","x":20,"y":0.02,"e":0.08},{"i":"C","s":"W","x":21,"y":0.07,"e":0.08},{"i":"C","s":"W","x":22,"y":0.12,"e":0.08},{"i":"C","s":"W","x":23,"y":0.2,"e":0.08},{"i":"C","s":"W","x":24,"y":0.35,"e":0.08},{"i":"C","s":"W","x":25,"y":0.5,"e":0.08},{"i":"C","s":"W","x":26,"y":0.65,"e":0.08},{"i":"C","s":"W","x":27,"y":0.72,"e":0.08},{"i":"C","s":"W","x":28,"y":0.72,"e":0.08},{"i":"C","s":"W","x":29,"y":0.75,"e":0.08},
{"i":"C","s":"W","x":30,"y":0.78,"e":0.08},{"i":"C","s":"W","x":31,"y":0.75,"e":0.08},{"i":"C","s":"W","x":32,"y":0.6,"e":0.08},{"i":"C","s":"W","x":33,"y":0.2,"e":0.08},{"i":"C","s":"W","x":34,"y":0.05,"e":0.08},{"i":"C","s":"W","x":35,"y":-0.07,"e":0.08},{"i":"C","s":"W","x":36,"y":-0.15,"e":0.08},{"i":"C","s":"W","x":37,"y":-0.27,"e":0.08},{"i":"C","s":"W","x":38,"y":-0.41,"e":0.08},{"i":"C","s":"W","x":39,"y":-0.41,"e":0.08},
{"i":"C","s":"W","x":40,"y":-0.41,"e":0.08},{"i":"C","s":"W","x":41,"y":-0.52,"e":0.08},{"i":"C","s":"W","x":42,"y":-0.35,"e":0.08},{"i":"C","s":"W","x":43,"y":0.2,"e":0.08},{"i":"C","s":"W","x":44,"y":0.6,"e":0.08},{"i":"C","s":"W","x":45,"y":0.95,"e":0.08},{"i":"C","s":"W","x":46,"y":1.35,"e":0.08},{"i":"C","s":"W","x":47,"y":1.69,"e":0.08},{"i":"C","s":"W","x":48,"y":1.75,"e":0.08},{"i":"C","s":"W","x":49,"y":1.77,"e":0.08},
{"i":"C","s":"W","x":50,"y":1.75,"e":0.08},{"i":"C","s":"W","x":51,"y":1.69,"e":0.08},{"i":"C","s":"W","x":52,"y":1.52,"e":0.08},{"i":"C","s":"W","x":53,"y":1.35,"e":0.08},{"i":"C","s":"W","x":54,"y":1.18,"e":0.08},{"i":"C","s":"W","x":55,"y":1.0,"e":0.08},{"i":"C","s":"W","x":56,"y":0.75,"e":0.08},{"i":"C","s":"W","x":57,"y":0.5,"e":0.08},{"i":"C","s":"W","x":58,"y":0.1,"e":0.08},{"i":"C","s":"W","x":59,"y":0.02,"e":0.08},{"i":"C","s":"W","x":60,"y":-0.02,"e":0.08},
{"i":"C","s":"P","x":0,"y":0.03,"e":0.15},{"i":"C","s":"P","x":1,"y":0.32,"e":0.15},{"i":"C","s":"P","x":2,"y":0.58,"e":0.15},{"i":"C","s":"P","x":3,"y":0.75,"e":0.15},{"i":"C","s":"P","x":4,"y":0.9,"e":0.15},{"i":"C","s":"P","x":5,"y":1.06,"e":0.15},{"i":"C","s":"P","x":6,"y":1.22,"e":0.15},{"i":"C","s":"P","x":7,"y":1.38,"e":0.15},{"i":"C","s":"P","x":8,"y":1.5,"e":0.15},{"i":"C","s":"P","x":9,"y":1.57,"e":0.15},
{"i":"C","s":"P","x":10,"y":1.56,"e":0.15},{"i":"C","s":"P","x":11,"y":1.45,"e":0.15},{"i":"C","s":"P","x":12,"y":1.26,"e":0.15},{"i":"C","s":"P","x":13,"y":0.8,"e":0.15},{"i":"C","s":"P","x":14,"y":0.45,"e":0.15},{"i":"C","s":"P","x":15,"y":0.32,"e":0.15},{"i":"C","s":"P","x":16,"y":0.33,"e":0.15},{"i":"C","s":"P","x":17,"y":0.36,"e":0.15},{"i":"C","s":"P","x":18,"y":0.5,"e":0.15},{"i":"C","s":"P","x":19,"y":0.85,"e":0.15},
{"i":"C","s":"P","x":20,"y":1.26,"e":0.15},{"i":"C","s":"P","x":21,"y":1.35,"e":0.15},{"i":"C","s":"P","x":22,"y":1.6,"e":0.15},{"i":"C","s":"P","x":23,"y":2.0,"e":0.15},{"i":"C","s":"P","x":24,"y":2.45,"e":0.15},{"i":"C","s":"P","x":25,"y":3.65,"e":0.15},{"i":"C","s":"P","x":26,"y":4.24,"e":0.15},{"i":"C","s":"P","x":27,"y":5.2,"e":0.15},{"i":"C","s":"P","x":28,"y":6.3,"e":0.15},{"i":"C","s":"P","x":29,"y":7.0,"e":0.15},
{"i":"C","s":"P","x":30,"y":7.7,"e":0.15},{"i":"C","s":"P","x":31,"y":7.6,"e":0.15},{"i":"C","s":"P","x":32,"y":6.12,"e":0.15},{"i":"C","s":"P","x":33,"y":5.09,"e":0.15},{"i":"C","s":"P","x":34,"y":4.67,"e":0.15},{"i":"C","s":"P","x":35,"y":4.5,"e":0.15},{"i":"C","s":"P","x":36,"y":3.82,"e":0.15},{"i":"C","s":"P","x":37,"y":3.0,"e":0.15},{"i":"C","s":"P","x":38,"y":2.58,"e":0.15},{"i":"C","s":"P","x":39,"y":2.45,"e":0.15},
{"i":"C","s":"P","x":40,"y":2.05,"e":0.15},{"i":"C","s":"P","x":41,"y":1.8,"e":0.15},{"i":"C","s":"P","x":42,"y":1.52,"e":0.15},{"i":"C","s":"P","x":43,"y":1.2,"e":0.15},{"i":"C","s":"P","x":44,"y":1.2,"e":0.15},{"i":"C","s":"P","x":45,"y":1.3,"e":0.15},{"i":"C","s":"P","x":46,"y":1.77,"e":0.15},{"i":"C","s":"P","x":47,"y":1.95,"e":0.15},{"i":"C","s":"P","x":48,"y":2.05,"e":0.15},{"i":"C","s":"P","x":49,"y":2.1,"e":0.15},
{"i":"C","s":"P","x":50,"y":2.1,"e":0.15},{"i":"C","s":"P","x":51,"y":2.03,"e":0.15},{"i":"C","s":"P","x":52,"y":1.88,"e":0.15},{"i":"C","s":"P","x":53,"y":1.69,"e":0.15},{"i":"C","s":"P","x":54,"y":1.45,"e":0.15},{"i":"C","s":"P","x":55,"y":1.18,"e":0.15},{"i":"C","s":"P","x":56,"y":0.9,"e":0.15},{"i":"C","s":"P","x":57,"y":0.58,"e":0.15},{"i":"C","s":"P","x":58,"y":0.1,"e":0.15},{"i":"C","s":"P","x":59,"y":-0.02,"e":0.15},{"i":"C","s":"P","x":60,"y":-0.27,"e":0.15},
{"i":"C","s":"O","x":0,"y":0.0,"e":0.15},{"i":"C","s":"O","x":1,"y":0.2,"e":0.15},{"i":"C","s":"O","x":2,"y":0.41,"e":0.15},{"i":"C","s":"O","x":3,"y":0.62,"e":0.15},{"i":"C","s":"O","x":4,"y":0.83,"e":0.15},{"i":"C","s":"O","x":5,"y":1.0,"e":0.15},{"i":"C","s":"O","x":6,"y":1.18,"e":0.15},{"i":"C","s":"O","x":7,"y":1.35,"e":0.15},{"i":"C","s":"O","x":8,"y":1.52,"e":0.15},{"i":"C","s":"O","x":9,"y":1.55,"e":0.15},
{"i":"C","s":"O","x":10,"y":1.43,"e":0.15},{"i":"C","s":"O","x":11,"y":1.3,"e":0.15},{"i":"C","s":"O","x":12,"y":1.18,"e":0.15},{"i":"C","s":"O","x":13,"y":0.85,"e":0.15},{"i":"C","s":"O","x":14,"y":0.4,"e":0.15},{"i":"C","s":"O","x":15,"y":0.3,"e":0.15},{"i":"C","s":"O","x":16,"y":0.45,"e":0.15},{"i":"C","s":"O","x":17,"y":0.49,"e":0.15},{"i":"C","s":"O","x":18,"y":0.58,"e":0.15},{"i":"C","s":"O","x":19,"y":0.75,"e":0.15},
{"i":"C","s":"O","x":20,"y":1.0,"e":0.15},{"i":"C","s":"O","x":21,"y":1.29,"e":0.15},{"i":"C","s":"O","x":22,"y":0.92,"e":0.15},{"i":"C","s":"O","x":23,"y":1.9,"e":0.15},{"i":"C","s":"O","x":24,"y":3.22,"e":0.15},{"i":"C","s":"O","x":25,"y":3.65,"e":0.15},{"i":"C","s":"O","x":26,"y":4.9,"e":0.15},{"i":"C","s":"O","x":27,"y":7.05,"e":0.15},{"i":"C","s":"O","x":28,"y":7.5,"e":0.15},{"i":"C","s":"O","x":29,"y":8.07,"e":0.15},
{"i":"C","s":"O","x":30,"y":7.45,"e":0.15},{"i":"C","s":"O","x":31,"y":6.85,"e":0.15},{"i":"C","s":"O","x":32,"y":5.69,"e":0.15},{"i":"C","s":"O","x":33,"y":5.5,"e":0.15},{"i":"C","s":"O","x":34,"y":5.3,"e":0.15},{"i":"C","s":"O","x":35,"y":4.1,"e":0.15},{"i":"C","s":"O","x":36,"y":2.96,"e":0.15},{"i":"C","s":"O","x":37,"y":2.92,"e":0.15},{"i":"C","s":"O","x":38,"y":2.79,"e":0.15},{"i":"C","s":"O","x":39,"y":2.5,"e":0.15},
{"i":"C","s":"O","x":40,"y":2.2,"e":0.15},{"i":"C","s":"O","x":41,"y":1.94,"e":0.15},{"i":"C","s":"O","x":42,"y":1.78,"e":0.15},{"i":"C","s":"O","x":43,"y":1.6,"e":0.15},{"i":"C","s":"O","x":44,"y":1.4,"e":0.2},{"i":"C","s":"O","x":45,"y":1.7,"e":0.2},{"i":"C","s":"O","x":46,"y":1.94,"e":0.2},{"i":"C","s":"O","x":47,"y":2.08,"e":0.2},{"i":"C","s":"O","x":48,"y":2.16,"e":0.2},{"i":"C","s":"O","x":49,"y":2.15,"e":0.2},
{"i":"C","s":"O","x":50,"y":2.11,"e":0.2},{"i":"C","s":"O","x":51,"y":1.9,"e":0.2},{"i":"C","s":"O","x":52,"y":1.69,"e":0.2},{"i":"C","s":"O","x":53,"y":1.45,"e":0.2},{"i":"C","s":"O","x":54,"y":1.18,"e":0.2},{"i":"C","s":"O","x":55,"y":0.95,"e":0.2},{"i":"C","s":"O","x":56,"y":0.75,"e":0.2},{"i":"C","s":"O","x":57,"y":0.55,"e":0.15},{"i":"C","s":"O","x":58,"y":0.32,"e":0.15},{"i":"C","s":"O","x":59,"y":0.1,"e":0.15},{"i":"C","s":"O","x":60,"y":-0.1,"e":0.15}
]},
"columns":3,
"spacing":{"row":0,"column":40},
"bounds":"flush",
"concat":[
{"title":{"text":"Claudin-5 Q57D Pore I","font":"Liberation Serif","fontSize":40,"fontWeight":"bold","color":"black","anchor":"middle","frame":"group","offset":49,"dx":-7},
"width":536,"height":313.6,"resolve":{"axis":{"x":"independent","y":"independent"}},"layer":[
{"data":{"name":"rl"},"transform":[{"filter":"datum.d=='L'"}],"mark":{"type":"rule","strokeDash":[9,5],"strokeWidth":2.5},"encoding":{"x":{"field":"x","type":"quantitative","axis":null},"color":{"field":"r","type":"nominal","legend":null,"scale":{"domain":["W","P","O","G60","K65","Q63","Q57","D57","D63","D63t","wt"],"range":["#8c8c8c","#ff8fe2","#ffc850","#16923a","#1f64c8","#16923a","#16923a","#ff66cc","#ffb800","#ff7a1f","#000000"]}}}},
{"data":{"name":"wb"},"transform":[{"filter":"datum.i=='H'&&datum.d=='L'"}],"mark":{"type":"rect","fill":"white","opacity":0.85},"encoding":{"x":{"field":"x1","type":"quantitative","scale":{"domain":[0,60],"nice":false},"axis":{"orient":"bottom","values":[0,10,20,30,40,50,60],"tickSize":-22,"labels":false,"title":null}},"x2":{"field":"x2"},"y":{"field":"y1","type":"quantitative","scale":{"domain":[-6,10],"nice":false},"axis":{"orient":"left","values":[-5,-2.5,0,2.5,5,7.5,10],"tickSize":-22,"labelPadding":34,"labelExpr":"''+datum.value","title":"FE (kcal/mol)","titlePadding":17}},"y2":{"field":"y2"}}},
{"data":{"name":"fe"},"transform":[{"filter":"datum.i=='H'&&datum.s!='O'"}],"mark":{"type":"errorband","borders":{"strokeWidth":1.5},"band":{"opacity":0}},"encoding":{"x":{"field":"x","type":"quantitative","axis":null},"y":{"field":"y","type":"quantitative","axis":null},"yError":{"field":"e"},"color":{"field":"s","type":"nominal","legend":null}}},
{"data":{"name":"fe"},"transform":[{"filter":"datum.i=='H'&&datum.s!='O'"}],"mark":{"type":"errorbar","ticks":false,"rule":{"strokeWidth":1.2}},"encoding":{"x":{"field":"x","type":"quantitative","axis":null},"y":{"field":"y","type":"quantitative","axis":null},"yError":{"field":"e"},"color":{"field":"s","type":"nominal","legend":null}}},
{"data":{"name":"fe"},"transform":[{"filter":"datum.i=='H'&&datum.s=='W'"}],"mark":{"type":"line","strokeWidth":3},"encoding":{"x":{"field":"x","type":"quantitative","axis":null},"y":{"field":"y","type":"quantitative","axis":null},"stroke":{"field":"s","type":"nominal","scale":{"domain":["P","O","W"],"range":["#ff1fcc","#ffb000","#000000"]},"legend":{"orient":"none","legendX":500,"legendY":-191,"title":null,"symbolType":"M-2,0H2","symbolSize":441,"symbolOffset":22,"labelOffset":23,"labelExpr":"datum.label=='P'?'Cldn5 Q57D':datum.label=='O'?'Cldn5 Q63D':'Cldn5 WT'"}}}},
{"data":{"name":"fe"},"transform":[{"filter":"datum.i=='H'&&datum.s=='P'"}],"mark":{"type":"line","strokeWidth":3.5},"encoding":{"x":{"field":"x","type":"quantitative","axis":null},"y":{"field":"y","type":"quantitative","axis":null},"stroke":{"field":"s","type":"nominal"}}},
{"data":{"name":"lab"},"transform":[{"filter":"datum.i=='H'&&datum.d=='L'&&datum.p=='c'"}],"mark":{"type":"text","fontWeight":"bold","fontSize":20,"align":"center","baseline":"middle"},"encoding":{"x":{"field":"x","type":"quantitative","axis":null},"y":{"field":"y","type":"quantitative","axis":null},"text":{"field":"t"},"color":{"field":"r","type":"nominal","legend":null}}},
{"data":{"name":"lab"},"transform":[{"filter":"datum.i=='H'&&datum.d=='L'&&datum.p=='r'"}],"mark":{"type":"text","fontWeight":"bold","fontSize":20,"align":"right","baseline":"middle"},"encoding":{"x":{"field":"x","type":"quantitative","axis":null},"y":{"field":"y","type":"quantitative","axis":null},"text":{"field":"t"},"color":{"field":"r","type":"nominal","legend":null}}},
{"data":{"name":"lab"},"transform":[{"filter":"datum.i=='H'&&datum.d=='L'&&datum.p=='l'"}],"mark":{"type":"text","fontWeight":"bold","fontSize":20,"align":"left","baseline":"middle"},"encoding":{"x":{"field":"x","type":"quantitative","axis":null},"y":{"field":"y","type":"quantitative","axis":null},"text":{"field":"t"},"color":{"field":"r","type":"nominal","legend":null}}},
{"data":{"name":"ib"},"transform":[{"filter":"datum.i=='H'&&datum.d=='L'"}],"mark":{"type":"rect","fill":"white","stroke":"#ffb800","strokeWidth":5},"encoding":{"x":{"field":"x1","type":"quantitative","axis":{"orient":"bottom","values":[5,15,25,35,45,55],"tickSize":-11,"labels":false,"title":null}},"x2":{"field":"x2"},"y":{"field":"y1","type":"quantitative","axis":{"orient":"left","values":[-3.75,-1.25,1.25,3.75,6.25,8.75],"tickSize":-11,"labels":false,"title":null}},"y2":{"field":"y2"}}},
{"data":{"name":"ib"},"transform":[{"filter":"datum.i=='H'&&datum.d=='L'"}],"mark":{"type":"text","fontWeight":"bold","fontSize":27,"color":"black","baseline":"middle"},"encoding":{"x":{"field":"cx","type":"quantitative","axis":{"orient":"top","values":[5,15,25,35,45,55],"tickSize":-11,"labels":false,"title":null}},"y":{"field":"cy","type":"quantitative","axis":{"orient":"right","values":[-3.75,-1.25,1.25,3.75,6.25,8.75],"tickSize":-11,"labels":false,"title":null}},"text":{"field":"t"}}},
{"data":{"name":"ib"},"transform":[{"filter":"datum.i=='H'&&datum.d=='L'"}],"mark":{"type":"text","fontWeight":"bold","fontSize":50,"color":"black","baseline":"middle"},"encoding":{"x":{"field":"lx","type":"quantitative","axis":{"orient":"top","values":[0,10,20,30,40,50,60],"tickSize":-22,"labels":false,"title":null}},"y":{"field":"ly","type":"quantitative","axis":{"orient":"right","values":[-5,-2.5,0,2.5,5,7.5,10],"tickSize":-22,"labels":false,"title":null}},"text":{"field":"L"}}}
]},
{"width":82,"height":313.6,"view":{"stroke":null},"data":{"name":"sep"},"transform":[{"filter":"datum.k=='A'"}],"mark":{"type":"rule","strokeWidth":3,"color":"black"},"encoding":{"x":{"datum":0,"type":"quantitative","scale":{"domain":[0,1]},"axis":null},"y":{"field":"t","type":"quantitative","scale":{"domain":[0,1],"nice":false},"axis":null},"y2":{"field":"b"}}},
{"title":{"text":"Claudin-5 Q63D Pore I","font":"Liberation Serif","fontSize":40,"fontWeight":"bold","color":"black","anchor":"middle","frame":"group","offset":49},
"width":536,"height":313.6,"resolve":{"axis":{"x":"independent","y":"independent"}},"layer":[
{"data":{"name":"rl"},"transform":[{"filter":"datum.d=='R'"}],"mark":{"type":"rule","strokeDash":[9,5],"strokeWidth":2.5},"encoding":{"x":{"field":"x","type":"quantitative","axis":null},"color":{"field":"r","type":"nominal","legend":null}}},
{"data":{"name":"wb"},"transform":[{"filter":"datum.i=='H'&&datum.d=='R'"}],"mark":{"type":"rect","fill":"white","opacity":0.85},"encoding":{"x":{"field":"x1","type":"quantitative","scale":{"domain":[0,60],"nice":false},"axis":{"orient":"bottom","values":[0,10,20,30,40,50,60],"tickSize":-22,"labels":false,"title":null}},"x2":{"field":"x2"},"y":{"field":"y1","type":"quantitative","scale":{"domain":[-6,10],"nice":false},"axis":{"orient":"left","values":[-5,-2.5,0,2.5,5,7.5,10],"tickSize":-22,"labelPadding":34,"labelExpr":"''+datum.value","title":"FE (kcal/mol)","titlePadding":17}},"y2":{"field":"y2"}}},
{"data":{"name":"fe"},"transform":[{"filter":"datum.i=='H'&&datum.s!='P'"}],"mark":{"type":"errorband","borders":{"strokeWidth":1.5},"band":{"opacity":0}},"encoding":{"x":{"field":"x","type":"quantitative","axis":null},"y":{"field":"y","type":"quantitative","axis":null},"yError":{"field":"e"},"color":{"field":"s","type":"nominal","legend":null}}},
{"data":{"name":"fe"},"transform":[{"filter":"datum.i=='H'&&datum.s!='P'"}],"mark":{"type":"errorbar","ticks":false,"rule":{"strokeWidth":1.2}},"encoding":{"x":{"field":"x","type":"quantitative","axis":null},"y":{"field":"y","type":"quantitative","axis":null},"yError":{"field":"e"},"color":{"field":"s","type":"nominal","legend":null}}},
{"data":{"name":"fe"},"transform":[{"filter":"datum.i=='H'&&datum.s=='W'"}],"mark":{"type":"line","strokeWidth":3},"encoding":{"x":{"field":"x","type":"quantitative","axis":null},"y":{"field":"y","type":"quantitative","axis":null},"stroke":{"field":"s","type":"nominal"}}},
{"data":{"name":"fe"},"transform":[{"filter":"datum.i=='H'&&datum.s=='O'"}],"mark":{"type":"line","strokeWidth":3.5},"encoding":{"x":{"field":"x","type":"quantitative","axis":null},"y":{"field":"y","type":"quantitative","axis":null},"stroke":{"field":"s","type":"nominal"}}},
{"data":{"name":"lab"},"transform":[{"filter":"datum.i=='H'&&datum.d=='R'&&datum.p=='c'"}],"mark":{"type":"text","fontWeight":"bold","fontSize":20,"align":"center","baseline":"middle"},"encoding":{"x":{"field":"x","type":"quantitative","axis":null},"y":{"field":"y","type":"quantitative","axis":null},"text":{"field":"t"},"color":{"field":"r","type":"nominal","legend":null}}},
{"data":{"name":"lab"},"transform":[{"filter":"datum.i=='H'&&datum.d=='R'&&datum.p=='r'"}],"mark":{"type":"text","fontWeight":"bold","fontSize":20,"align":"right","baseline":"middle"},"encoding":{"x":{"field":"x","type":"quantitative","axis":null},"y":{"field":"y","type":"quantitative","axis":null},"text":{"field":"t"},"color":{"field":"r","type":"nominal","legend":null}}},
{"data":{"name":"lab"},"transform":[{"filter":"datum.i=='H'&&datum.d=='R'&&datum.p=='l'"}],"mark":{"type":"text","fontWeight":"bold","fontSize":20,"align":"left","baseline":"middle"},"encoding":{"x":{"field":"x","type":"quantitative","axis":null},"y":{"field":"y","type":"quantitative","axis":null},"text":{"field":"t"},"color":{"field":"r","type":"nominal","legend":null}}},
{"data":{"name":"ib"},"transform":[{"filter":"datum.i=='H'&&datum.d=='R'"}],"mark":{"type":"rect","fill":"white","stroke":"#ffb800","strokeWidth":5},"encoding":{"x":{"field":"x1","type":"quantitative","axis":{"orient":"bottom","values":[5,15,25,35,45,55],"tickSize":-11,"labels":false,"title":null}},"x2":{"field":"x2"},"y":{"field":"y1","type":"quantitative","axis":{"orient":"left","values":[-3.75,-1.25,1.25,3.75,6.25,8.75],"tickSize":-11,"labels":false,"title":null}},"y2":{"field":"y2"}}},
{"data":{"name":"ib"},"transform":[{"filter":"datum.i=='H'&&datum.d=='R'"}],"mark":{"type":"text","fontWeight":"bold","fontSize":27,"color":"black","baseline":"middle"},"encoding":{"x":{"field":"cx","type":"quantitative","axis":{"orient":"top","values":[5,15,25,35,45,55],"tickSize":-11,"labels":false,"title":null}},"y":{"field":"cy","type":"quantitative","axis":{"orient":"right","values":[-3.75,-1.25,1.25,3.75,6.25,8.75],"tickSize":-11,"labels":false,"title":null}},"text":{"field":"t"}}},
{"data":{"name":"ib"},"transform":[{"filter":"datum.i=='H'&&datum.d=='R'"}],"mark":{"type":"text","fontWeight":"bold","fontSize":50,"color":"black","baseline":"middle"},"encoding":{"x":{"field":"lx","type":"quantitative","axis":{"orient":"top","values":[0,10,20,30,40,50,60],"tickSize":-22,"labels":false,"title":null}},"y":{"field":"ly","type":"quantitative","axis":{"orient":"right","values":[-5,-2.5,0,2.5,5,7.5,10],"tickSize":-22,"labels":false,"title":null}},"text":{"field":"L"}}}
]},
{"width":536,"height":313.6,"resolve":{"axis":{"x":"independent","y":"independent"}},"layer":[
{"data":{"name":"rl"},"transform":[{"filter":"datum.d=='L'"}],"mark":{"type":"rule","strokeDash":[9,5],"strokeWidth":2.5},"encoding":{"x":{"field":"x","type":"quantitative","axis":null},"color":{"field":"r","type":"nominal","legend":null}}},
{"data":{"name":"wb"},"transform":[{"filter":"datum.i=='N'&&datum.d=='L'"}],"mark":{"type":"rect","fill":"white","opacity":0.85},"encoding":{"x":{"field":"x1","type":"quantitative","scale":{"domain":[0,60],"nice":false},"axis":{"orient":"bottom","values":[0,10,20,30,40,50,60],"tickSize":-22,"labels":false,"title":null}},"x2":{"field":"x2"},"y":{"field":"y1","type":"quantitative","scale":{"domain":[-6,10],"nice":false},"axis":{"orient":"left","values":[-5,-2.5,0,2.5,5,7.5,10],"tickSize":-22,"labelPadding":34,"labelExpr":"''+datum.value","title":"FE (kcal/mol)","titlePadding":17}},"y2":{"field":"y2"}}},
{"data":{"name":"fe"},"transform":[{"filter":"datum.i=='N'&&datum.s!='O'"}],"mark":{"type":"errorband","borders":{"strokeWidth":1.5},"band":{"opacity":0}},"encoding":{"x":{"field":"x","type":"quantitative","axis":null},"y":{"field":"y","type":"quantitative","axis":null},"yError":{"field":"e"},"color":{"field":"s","type":"nominal","legend":null}}},
{"data":{"name":"fe"},"transform":[{"filter":"datum.i=='N'&&datum.s!='O'"}],"mark":{"type":"errorbar","ticks":false,"rule":{"strokeWidth":1.2}},"encoding":{"x":{"field":"x","type":"quantitative","axis":null},"y":{"field":"y","type":"quantitative","axis":null},"yError":{"field":"e"},"color":{"field":"s","type":"nominal","legend":null}}},
{"data":{"name":"fe"},"transform":[{"filter":"datum.i=='N'&&datum.s=='W'"}],"mark":{"type":"line","strokeWidth":3},"encoding":{"x":{"field":"x","type":"quantitative","axis":null},"y":{"field":"y","type":"quantitative","axis":null},"stroke":{"field":"s","type":"nominal"}}},
{"data":{"name":"fe"},"transform":[{"filter":"datum.i=='N'&&datum.s=='P'"}],"mark":{"type":"line","strokeWidth":3.5},"encoding":{"x":{"field":"x","type":"quantitative","axis":null},"y":{"field":"y","type":"quantitative","axis":null},"stroke":{"field":"s","type":"nominal"}}},
{"data":{"name":"lab"},"transform":[{"filter":"datum.i=='N'&&datum.d=='L'&&datum.p=='c'"}],"mark":{"type":"text","fontWeight":"bold","fontSize":20,"align":"center","baseline":"middle"},"encoding":{"x":{"field":"x","type":"quantitative","axis":null},"y":{"field":"y","type":"quantitative","axis":null},"text":{"field":"t"},"color":{"field":"r","type":"nominal","legend":null}}},
{"data":{"name":"lab"},"transform":[{"filter":"datum.i=='N'&&datum.d=='L'&&datum.p=='r'"}],"mark":{"type":"text","fontWeight":"bold","fontSize":20,"align":"right","baseline":"middle"},"encoding":{"x":{"field":"x","type":"quantitative","axis":null},"y":{"field":"y","type":"quantitative","axis":null},"text":{"field":"t"},"color":{"field":"r","type":"nominal","legend":null}}},
{"data":{"name":"lab"},"transform":[{"filter":"datum.i=='N'&&datum.d=='L'&&datum.p=='l'"}],"mark":{"type":"text","fontWeight":"bold","fontSize":20,"align":"left","baseline":"middle"},"encoding":{"x":{"field":"x","type":"quantitative","axis":null},"y":{"field":"y","type":"quantitative","axis":null},"text":{"field":"t"},"color":{"field":"r","type":"nominal","legend":null}}},
{"data":{"name":"ib"},"transform":[{"filter":"datum.i=='N'&&datum.d=='L'"}],"mark":{"type":"rect","fill":"white","stroke":"#ffb800","strokeWidth":5},"encoding":{"x":{"field":"x1","type":"quantitative","axis":{"orient":"bottom","values":[5,15,25,35,45,55],"tickSize":-11,"labels":false,"title":null}},"x2":{"field":"x2"},"y":{"field":"y1","type":"quantitative","axis":{"orient":"left","values":[-3.75,-1.25,1.25,3.75,6.25,8.75],"tickSize":-11,"labels":false,"title":null}},"y2":{"field":"y2"}}},
{"data":{"name":"ib"},"transform":[{"filter":"datum.i=='N'&&datum.d=='L'"}],"mark":{"type":"text","fontWeight":"bold","fontSize":27,"color":"black","baseline":"middle"},"encoding":{"x":{"field":"cx","type":"quantitative","axis":{"orient":"top","values":[5,15,25,35,45,55],"tickSize":-11,"labels":false,"title":null}},"y":{"field":"cy","type":"quantitative","axis":{"orient":"right","values":[-3.75,-1.25,1.25,3.75,6.25,8.75],"tickSize":-11,"labels":false,"title":null}},"text":{"field":"t"}}},
{"data":{"name":"ib"},"transform":[{"filter":"datum.i=='N'&&datum.d=='L'"}],"mark":{"type":"text","fontWeight":"bold","fontSize":50,"color":"black","baseline":"middle"},"encoding":{"x":{"field":"lx","type":"quantitative","axis":{"orient":"top","values":[0,10,20,30,40,50,60],"tickSize":-22,"labels":false,"title":null}},"y":{"field":"ly","type":"quantitative","axis":{"orient":"right","values":[-5,-2.5,0,2.5,5,7.5,10],"tickSize":-22,"labels":false,"title":null}},"text":{"field":"L"}}}
]},
{"width":82,"height":313.6,"view":{"stroke":null},"data":{"name":"sep"},"transform":[{"filter":"datum.k=='C'"}],"mark":{"type":"rule","strokeWidth":3,"color":"black"},"encoding":{"x":{"datum":0,"type":"quantitative","scale":{"domain":[0,1]},"axis":null},"y":{"field":"t","type":"quantitative","scale":{"domain":[0,1],"nice":false},"axis":null},"y2":{"field":"b"}}},
{"width":536,"height":313.6,"resolve":{"axis":{"x":"independent","y":"independent"}},"layer":[
{"data":{"name":"rl"},"transform":[{"filter":"datum.d=='R'"}],"mark":{"type":"rule","strokeDash":[9,5],"strokeWidth":2.5},"encoding":{"x":{"field":"x","type":"quantitative","axis":null},"color":{"field":"r","type":"nominal","legend":null}}},
{"data":{"name":"wb"},"transform":[{"filter":"datum.i=='N'&&datum.d=='R'"}],"mark":{"type":"rect","fill":"white","opacity":0.85},"encoding":{"x":{"field":"x1","type":"quantitative","scale":{"domain":[0,60],"nice":false},"axis":{"orient":"bottom","values":[0,10,20,30,40,50,60],"tickSize":-22,"labels":false,"title":null}},"x2":{"field":"x2"},"y":{"field":"y1","type":"quantitative","scale":{"domain":[-6,10],"nice":false},"axis":{"orient":"left","values":[-5,-2.5,0,2.5,5,7.5,10],"tickSize":-22,"labelPadding":34,"labelExpr":"''+datum.value","title":"FE (kcal/mol)","titlePadding":17}},"y2":{"field":"y2"}}},
{"data":{"name":"fe"},"transform":[{"filter":"datum.i=='N'&&datum.s!='P'"}],"mark":{"type":"errorband","borders":{"strokeWidth":1.5},"band":{"opacity":0}},"encoding":{"x":{"field":"x","type":"quantitative","axis":null},"y":{"field":"y","type":"quantitative","axis":null},"yError":{"field":"e"},"color":{"field":"s","type":"nominal","legend":null}}},
{"data":{"name":"fe"},"transform":[{"filter":"datum.i=='N'&&datum.s!='P'"}],"mark":{"type":"errorbar","ticks":false,"rule":{"strokeWidth":1.2}},"encoding":{"x":{"field":"x","type":"quantitative","axis":null},"y":{"field":"y","type":"quantitative","axis":null},"yError":{"field":"e"},"color":{"field":"s","type":"nominal","legend":null}}},
{"data":{"name":"fe"},"transform":[{"filter":"datum.i=='N'&&datum.s=='W'"}],"mark":{"type":"line","strokeWidth":3},"encoding":{"x":{"field":"x","type":"quantitative","axis":null},"y":{"field":"y","type":"quantitative","axis":null},"stroke":{"field":"s","type":"nominal"}}},
{"data":{"name":"fe"},"transform":[{"filter":"datum.i=='N'&&datum.s=='O'"}],"mark":{"type":"line","strokeWidth":3.5},"encoding":{"x":{"field":"x","type":"quantitative","axis":null},"y":{"field":"y","type":"quantitative","axis":null},"stroke":{"field":"s","type":"nominal"}}},
{"data":{"name":"lab"},"transform":[{"filter":"datum.i=='N'&&datum.d=='R'&&datum.p=='c'"}],"mark":{"type":"text","fontWeight":"bold","fontSize":20,"align":"center","baseline":"middle"},"encoding":{"x":{"field":"x","type":"quantitative","axis":null},"y":{"field":"y","type":"quantitative","axis":null},"text":{"field":"t"},"color":{"field":"r","type":"nominal","legend":null}}},
{"data":{"name":"lab"},"transform":[{"filter":"datum.i=='N'&&datum.d=='R'&&datum.p=='r'"}],"mark":{"type":"text","fontWeight":"bold","fontSize":20,"align":"right","baseline":"middle"},"encoding":{"x":{"field":"x","type":"quantitative","axis":null},"y":{"field":"y","type":"quantitative","axis":null},"text":{"field":"t"},"color":{"field":"r","type":"nominal","legend":null}}},
{"data":{"name":"lab"},"transform":[{"filter":"datum.i=='N'&&datum.d=='R'&&datum.p=='l'"}],"mark":{"type":"text","fontWeight":"bold","fontSize":20,"align":"left","baseline":"middle"},"encoding":{"x":{"field":"x","type":"quantitative","axis":null},"y":{"field":"y","type":"quantitative","axis":null},"text":{"field":"t"},"color":{"field":"r","type":"nominal","legend":null}}},
{"data":{"name":"ib"},"transform":[{"filter":"datum.i=='N'&&datum.d=='R'"}],"mark":{"type":"rect","fill":"white","stroke":"#ffb800","strokeWidth":5},"encoding":{"x":{"field":"x1","type":"quantitative","axis":{"orient":"bottom","values":[5,15,25,35,45,55],"tickSize":-11,"labels":false,"title":null}},"x2":{"field":"x2"},"y":{"field":"y1","type":"quantitative","axis":{"orient":"left","values":[-3.75,-1.25,1.25,3.75,6.25,8.75],"tickSize":-11,"labels":false,"title":null}},"y2":{"field":"y2"}}},
{"data":{"name":"ib"},"transform":[{"filter":"datum.i=='N'&&datum.d=='R'"}],"mark":{"type":"text","fontWeight":"bold","fontSize":27,"color":"black","baseline":"middle"},"encoding":{"x":{"field":"cx","type":"quantitative","axis":{"orient":"top","values":[5,15,25,35,45,55],"tickSize":-11,"labels":false,"title":null}},"y":{"field":"cy","type":"quantitative","axis":{"orient":"right","values":[-3.75,-1.25,1.25,3.75,6.25,8.75],"tickSize":-11,"labels":false,"title":null}},"text":{"field":"t"}}},
{"data":{"name":"ib"},"transform":[{"filter":"datum.i=='N'&&datum.d=='R'"}],"mark":{"type":"text","fontWeight":"bold","fontSize":50,"color":"black","baseline":"middle"},"encoding":{"x":{"field":"lx","type":"quantitative","axis":{"orient":"top","values":[0,10,20,30,40,50,60],"tickSize":-22,"labels":false,"title":null}},"y":{"field":"ly","type":"quantitative","axis":{"orient":"right","values":[-5,-2.5,0,2.5,5,7.5,10],"tickSize":-22,"labels":false,"title":null}},"text":{"field":"L"}}}
]},
{"width":536,"height":313.6,"resolve":{"axis":{"x":"independent","y":"independent"}},"layer":[
{"data":{"name":"rl"},"transform":[{"filter":"datum.d=='L'"}],"mark":{"type":"rule","strokeDash":[9,5],"strokeWidth":2.5},"encoding":{"x":{"field":"x","type":"quantitative","axis":null},"color":{"field":"r","type":"nominal","legend":null}}},
{"data":{"name":"wb"},"transform":[{"filter":"datum.i=='C'&&datum.d=='L'"}],"mark":{"type":"rect","fill":"white","opacity":0.85},"encoding":{"x":{"field":"x1","type":"quantitative","scale":{"domain":[0,60],"nice":false},"axis":{"orient":"bottom","values":[0,10,20,30,40,50,60],"tickSize":-22,"labelPadding":32,"title":"pore axis (Å)","titlePadding":6}},"x2":{"field":"x2"},"y":{"field":"y1","type":"quantitative","scale":{"domain":[-6,10],"nice":false},"axis":{"orient":"left","values":[-5,-2.5,0,2.5,5,7.5,10],"tickSize":-22,"labelPadding":34,"labelExpr":"''+datum.value","title":"FE (kcal/mol)","titlePadding":17}},"y2":{"field":"y2"}}},
{"data":{"name":"fe"},"transform":[{"filter":"datum.i=='C'&&datum.s!='O'"}],"mark":{"type":"errorband","borders":{"strokeWidth":1.5},"band":{"opacity":0}},"encoding":{"x":{"field":"x","type":"quantitative","axis":null},"y":{"field":"y","type":"quantitative","axis":null},"yError":{"field":"e"},"color":{"field":"s","type":"nominal","legend":null}}},
{"data":{"name":"fe"},"transform":[{"filter":"datum.i=='C'&&datum.s!='O'"}],"mark":{"type":"errorbar","ticks":false,"rule":{"strokeWidth":1.2}},"encoding":{"x":{"field":"x","type":"quantitative","axis":null},"y":{"field":"y","type":"quantitative","axis":null},"yError":{"field":"e"},"color":{"field":"s","type":"nominal","legend":null}}},
{"data":{"name":"fe"},"transform":[{"filter":"datum.i=='C'&&datum.s=='W'"}],"mark":{"type":"line","strokeWidth":3},"encoding":{"x":{"field":"x","type":"quantitative","axis":null},"y":{"field":"y","type":"quantitative","axis":null},"stroke":{"field":"s","type":"nominal"}}},
{"data":{"name":"fe"},"transform":[{"filter":"datum.i=='C'&&datum.s=='P'"}],"mark":{"type":"line","strokeWidth":3.5},"encoding":{"x":{"field":"x","type":"quantitative","axis":null},"y":{"field":"y","type":"quantitative","axis":null},"stroke":{"field":"s","type":"nominal"}}},
{"data":{"name":"lab"},"transform":[{"filter":"datum.i=='C'&&datum.d=='L'&&datum.p=='c'"}],"mark":{"type":"text","fontWeight":"bold","fontSize":20,"align":"center","baseline":"middle"},"encoding":{"x":{"field":"x","type":"quantitative","axis":null},"y":{"field":"y","type":"quantitative","axis":null},"text":{"field":"t"},"color":{"field":"r","type":"nominal","legend":null}}},
{"data":{"name":"lab"},"transform":[{"filter":"datum.i=='C'&&datum.d=='L'&&datum.p=='r'"}],"mark":{"type":"text","fontWeight":"bold","fontSize":20,"align":"right","baseline":"middle"},"encoding":{"x":{"field":"x","type":"quantitative","axis":null},"y":{"field":"y","type":"quantitative","axis":null},"text":{"field":"t"},"color":{"field":"r","type":"nominal","legend":null}}},
{"data":{"name":"lab"},"transform":[{"filter":"datum.i=='C'&&datum.d=='L'&&datum.p=='l'"}],"mark":{"type":"text","fontWeight":"bold","fontSize":20,"align":"left","baseline":"middle"},"encoding":{"x":{"field":"x","type":"quantitative","axis":null},"y":{"field":"y","type":"quantitative","axis":null},"text":{"field":"t"},"color":{"field":"r","type":"nominal","legend":null}}},
{"data":{"name":"ib"},"transform":[{"filter":"datum.i=='C'&&datum.d=='L'"}],"mark":{"type":"rect","fill":"white","stroke":"#ffb800","strokeWidth":5},"encoding":{"x":{"field":"x1","type":"quantitative","axis":{"orient":"bottom","values":[5,15,25,35,45,55],"tickSize":-11,"labels":false,"title":null}},"x2":{"field":"x2"},"y":{"field":"y1","type":"quantitative","axis":{"orient":"left","values":[-3.75,-1.25,1.25,3.75,6.25,8.75],"tickSize":-11,"labels":false,"title":null}},"y2":{"field":"y2"}}},
{"data":{"name":"ib"},"transform":[{"filter":"datum.i=='C'&&datum.d=='L'"}],"mark":{"type":"text","fontWeight":"bold","fontSize":27,"color":"black","baseline":"middle"},"encoding":{"x":{"field":"cx","type":"quantitative","axis":{"orient":"top","values":[5,15,25,35,45,55],"tickSize":-11,"labels":false,"title":null}},"y":{"field":"cy","type":"quantitative","axis":{"orient":"right","values":[-3.75,-1.25,1.25,3.75,6.25,8.75],"tickSize":-11,"labels":false,"title":null}},"text":{"field":"t"}}},
{"data":{"name":"ib"},"transform":[{"filter":"datum.i=='C'&&datum.d=='L'"}],"mark":{"type":"text","fontWeight":"bold","fontSize":50,"color":"black","baseline":"middle"},"encoding":{"x":{"field":"lx","type":"quantitative","axis":{"orient":"top","values":[0,10,20,30,40,50,60],"tickSize":-22,"labels":false,"title":null}},"y":{"field":"ly","type":"quantitative","axis":{"orient":"right","values":[-5,-2.5,0,2.5,5,7.5,10],"tickSize":-22,"labels":false,"title":null}},"text":{"field":"L"}}}
]},
{"width":82,"height":313.6,"view":{"stroke":null},"data":{"name":"sep"},"transform":[{"filter":"datum.k=='E'"}],"mark":{"type":"rule","strokeWidth":3,"color":"black"},"encoding":{"x":{"datum":0,"type":"quantitative","scale":{"domain":[0,1]},"axis":null},"y":{"field":"t","type":"quantitative","scale":{"domain":[0,1],"nice":false},"axis":null},"y2":{"field":"b"}}},
{"width":536,"height":313.6,"resolve":{"axis":{"x":"independent","y":"independent"}},"layer":[
{"data":{"name":"rl"},"transform":[{"filter":"datum.d=='R'"}],"mark":{"type":"rule","strokeDash":[9,5],"strokeWidth":2.5},"encoding":{"x":{"field":"x","type":"quantitative","axis":null},"color":{"field":"r","type":"nominal","legend":null}}},
{"data":{"name":"wb"},"transform":[{"filter":"datum.i=='C'&&datum.d=='R'"}],"mark":{"type":"rect","fill":"white","opacity":0.85},"encoding":{"x":{"field":"x1","type":"quantitative","scale":{"domain":[0,60],"nice":false},"axis":{"orient":"bottom","values":[0,10,20,30,40,50,60],"tickSize":-22,"labelPadding":32,"title":"pore axis (Å)","titlePadding":6}},"x2":{"field":"x2"},"y":{"field":"y1","type":"quantitative","scale":{"domain":[-6,10],"nice":false},"axis":{"orient":"left","values":[-5,-2.5,0,2.5,5,7.5,10],"tickSize":-22,"labelPadding":34,"labelExpr":"''+datum.value","title":"FE (kcal/mol)","titlePadding":17}},"y2":{"field":"y2"}}},
{"data":{"name":"fe"},"transform":[{"filter":"datum.i=='C'&&datum.s!='P'"}],"mark":{"type":"errorband","borders":{"strokeWidth":1.5},"band":{"opacity":0}},"encoding":{"x":{"field":"x","type":"quantitative","axis":null},"y":{"field":"y","type":"quantitative","axis":null},"yError":{"field":"e"},"color":{"field":"s","type":"nominal","legend":null}}},
{"data":{"name":"fe"},"transform":[{"filter":"datum.i=='C'&&datum.s!='P'"}],"mark":{"type":"errorbar","ticks":false,"rule":{"strokeWidth":1.2}},"encoding":{"x":{"field":"x","type":"quantitative","axis":null},"y":{"field":"y","type":"quantitative","axis":null},"yError":{"field":"e"},"color":{"field":"s","type":"nominal","legend":null}}},
{"data":{"name":"fe"},"transform":[{"filter":"datum.i=='C'&&datum.s=='W'"}],"mark":{"type":"line","strokeWidth":3},"encoding":{"x":{"field":"x","type":"quantitative","axis":null},"y":{"field":"y","type":"quantitative","axis":null},"stroke":{"field":"s","type":"nominal"}}},
{"data":{"name":"fe"},"transform":[{"filter":"datum.i=='C'&&datum.s=='O'"}],"mark":{"type":"line","strokeWidth":3.5},"encoding":{"x":{"field":"x","type":"quantitative","axis":null},"y":{"field":"y","type":"quantitative","axis":null},"stroke":{"field":"s","type":"nominal"}}},
{"data":{"name":"lab"},"transform":[{"filter":"datum.i=='C'&&datum.d=='R'&&datum.p=='c'"}],"mark":{"type":"text","fontWeight":"bold","fontSize":20,"align":"center","baseline":"middle"},"encoding":{"x":{"field":"x","type":"quantitative","axis":null},"y":{"field":"y","type":"quantitative","axis":null},"text":{"field":"t"},"color":{"field":"r","type":"nominal","legend":null}}},
{"data":{"name":"lab"},"transform":[{"filter":"datum.i=='C'&&datum.d=='R'&&datum.p=='r'"}],"mark":{"type":"text","fontWeight":"bold","fontSize":20,"align":"right","baseline":"middle"},"encoding":{"x":{"field":"x","type":"quantitative","axis":null},"y":{"field":"y","type":"quantitative","axis":null},"text":{"field":"t"},"color":{"field":"r","type":"nominal","legend":null}}},
{"data":{"name":"lab"},"transform":[{"filter":"datum.i=='C'&&datum.d=='R'&&datum.p=='l'"}],"mark":{"type":"text","fontWeight":"bold","fontSize":20,"align":"left","baseline":"middle"},"encoding":{"x":{"field":"x","type":"quantitative","axis":null},"y":{"field":"y","type":"quantitative","axis":null},"text":{"field":"t"},"color":{"field":"r","type":"nominal","legend":null}}},
{"data":{"name":"ib"},"transform":[{"filter":"datum.i=='C'&&datum.d=='R'"}],"mark":{"type":"rect","fill":"white","stroke":"#ffb800","strokeWidth":5},"encoding":{"x":{"field":"x1","type":"quantitative","axis":{"orient":"bottom","values":[5,15,25,35,45,55],"tickSize":-11,"labels":false,"title":null}},"x2":{"field":"x2"},"y":{"field":"y1","type":"quantitative","axis":{"orient":"left","values":[-3.75,-1.25,1.25,3.75,6.25,8.75],"tickSize":-11,"labels":false,"title":null}},"y2":{"field":"y2"}}},
{"data":{"name":"ib"},"transform":[{"filter":"datum.i=='C'&&datum.d=='R'"}],"mark":{"type":"text","fontWeight":"bold","fontSize":27,"color":"black","baseline":"middle"},"encoding":{"x":{"field":"cx","type":"quantitative","axis":{"orient":"top","values":[5,15,25,35,45,55],"tickSize":-11,"labels":false,"title":null}},"y":{"field":"cy","type":"quantitative","axis":{"orient":"right","values":[-3.75,-1.25,1.25,3.75,6.25,8.75],"tickSize":-11,"labels":false,"title":null}},"text":{"field":"t"}}},
{"data":{"name":"ib"},"transform":[{"filter":"datum.i=='C'&&datum.d=='R'"}],"mark":{"type":"text","fontWeight":"bold","fontSize":50,"color":"black","baseline":"middle"},"encoding":{"x":{"field":"lx","type":"quantitative","axis":{"orient":"top","values":[0,10,20,30,40,50,60],"tickSize":-22,"labels":false,"title":null}},"y":{"field":"ly","type":"quantitative","axis":{"orient":"right","values":[-5,-2.5,0,2.5,5,7.5,10],"tickSize":-22,"labels":false,"title":null}},"text":{"field":"L"}}}
]}
]
}
